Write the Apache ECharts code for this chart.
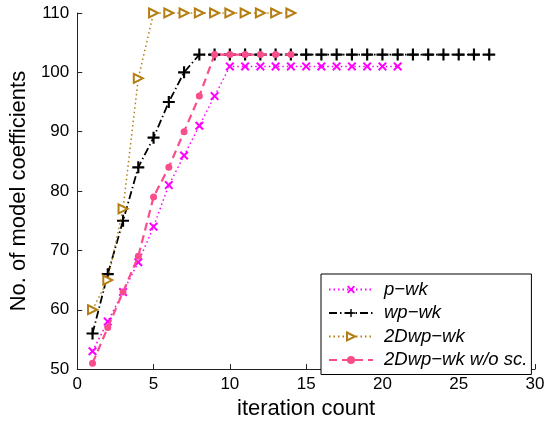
<!DOCTYPE html>
<html>
<head>
<meta charset="utf-8">
<script src="https://cdn.jsdelivr.net/npm/echarts@6/dist/echarts.min.js"></script>
<style>
  html, body { margin: 0; padding: 0; background: #fff; }
  #chart { width: 552px; height: 425px; }
</style>
</head>
<body>
<div id="chart"></div>
<script>
// Number of model coefficients per iteration for four estimation variants
const seriesNames = ['p\u2212wk', 'wp\u2212wk', '2Dwp\u2212wk', '2Dwp\u2212wk w/o sc.'];

const pwkIter = [1, 2, 3, 4, 5, 6, 7, 8, 9, 10, 11, 12, 13, 14, 15, 16, 17, 18, 19, 20, 21];
const pwkCoef = [53, 58, 63, 68, 74, 81, 86, 91, 96, 101, 101, 101, 101, 101, 101, 101, 101, 101, 101, 101, 101];

const wpwkIter = [1, 2, 3, 4, 5, 6, 7, 8, 9, 10, 11, 12, 13, 14, 15, 16, 17, 18, 19, 20, 21, 22, 23, 24, 25, 26, 27];
const wpwkCoef = [56, 66, 75, 84, 89, 95, 100, 103, 103, 103, 103, 103, 103, 103, 103, 103, 103, 103, 103, 103, 103, 103, 103, 103, 103, 103, 103];

const d2wpIter = [1, 2, 3, 4, 5, 6, 7, 8, 9, 10, 11, 12, 13, 14];
const d2wpCoef = [60, 65, 77, 99, 110, 110, 110, 110, 110, 110, 110, 110, 110, 110];

const d2noscIter = [1, 2, 3, 4, 5, 6, 7, 8, 9, 10, 11, 12, 13, 14];
const d2noscCoef = [51, 57, 63, 69, 79, 84, 90, 96, 103, 103, 103, 103, 103, 103];

const xTicks = { min: 0, max: 30, step: 5 };
const yTicks = { min: 50, max: 110, step: 10 };

const pairs = (xs, ys) => xs.map((x, i) => [x, ys[i]]);

const FONT = '"Liberation Sans", Arial, sans-serif';
const CROSS = 'path://M0,1.6L1.6,0L5,3.4L8.4,0L10,1.6L6.6,5L10,8.4L8.4,10L5,6.6L1.6,10L0,8.4L3.4,5Z';
const PLUS = 'path://M4.1,0H5.9V4.1H10V5.9H5.9V10H4.1V5.9H0V4.1H4.1Z';
const TRI = 'path://M0,0L10,5L0,10Z';

const chart = echarts.init(document.getElementById('chart'), null, { renderer: 'canvas' });

const axisCommon = {
  type: 'value',
  axisLine: { show: true, lineStyle: { color: '#222', width: 1 } },
  axisTick: { show: true, inside: true, length: 5, lineStyle: { color: '#222', width: 1 } },
  axisLabel: { color: '#000', fontSize: 17, fontFamily: FONT },
  splitLine: { show: false },
  nameLocation: 'middle',
  nameTextStyle: { color: '#000', fontSize: 22, fontFamily: FONT }
};

chart.setOption({
  animation: false,
  backgroundColor: '#fff',
  grid: { left: 76, right: 17, top: 13, bottom: 52, containLabel: false },
  xAxis: Object.assign({}, axisCommon, {
    min: xTicks.min, max: xTicks.max, interval: xTicks.step,
    name: 'iteration count', nameGap: 27,
    axisLabel: Object.assign({}, axisCommon.axisLabel, { margin: 7 })
  }),
  yAxis: Object.assign({}, axisCommon, {
    min: yTicks.min, max: yTicks.max, interval: yTicks.step,
    name: 'No. of model coefficients', nameGap: 43,
    axisLabel: Object.assign({}, axisCommon.axisLabel, { margin: 8 })
  }),
  legend: {
    orient: 'vertical',
    left: 321, top: 274,
    padding: [6, 4, 5, 7],
    itemGap: 4.5,
    itemWidth: 44,
    itemHeight: 10,
    borderColor: '#000',
    borderWidth: 1,
    backgroundColor: '#fff',
    textStyle: { color: '#000', fontSize: 18.5, fontStyle: 'italic', fontFamily: FONT, padding: [0, 0, 0, 6] },
    data: seriesNames
  },
  series: [
    {
      name: seriesNames[0], type: 'line', data: pairs(pwkIter, pwkCoef),
      symbol: CROSS, symbolSize: 9,
      itemStyle: { color: '#ff00ff' },
      lineStyle: { color: '#ff00ff', width: 1.5, type: [1.5, 3] },
      z: 2
    },
    {
      name: seriesNames[1], type: 'line', data: pairs(wpwkIter, wpwkCoef),
      symbol: PLUS, symbolSize: 12,
      itemStyle: { color: '#000' },
      lineStyle: { color: '#000', width: 1.8, type: [8, 3, 1.5, 3] },
      z: 3
    },
    {
      name: seriesNames[2], type: 'line', data: pairs(d2wpIter, d2wpCoef),
      symbol: TRI, symbolSize: 9,
      itemStyle: { color: '#fff', borderColor: '#b47e12', borderWidth: 2 },
      lineStyle: { color: '#b47e12', width: 1.5, type: [1.5, 3] },
      z: 4
    },
    {
      name: seriesNames[3], type: 'line', data: pairs(d2noscIter, d2noscCoef),
      symbol: 'circle', symbolSize: 7,
      itemStyle: { color: '#fa4d8c' },
      lineStyle: { color: '#fa4d8c', width: 2.2, type: [8, 5] },
      z: 5
    }
  ]
});
</script>
</body>
</html>
